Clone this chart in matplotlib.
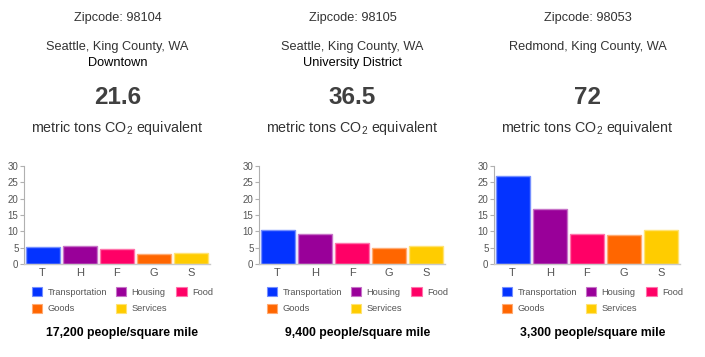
import matplotlib
matplotlib.use("Agg")
import matplotlib.pyplot as plt
from matplotlib.patches import Patch
from matplotlib.colors import to_rgb

plt.rcParams['font.family'] = ['Liberation Sans', 'DejaVu Sans']
plt.rcParams['mathtext.default'] = 'regular'

# ---- data ----
zipcodes = ['98104', '98105', '98053']
cities = ['Seattle, King County, WA', 'Seattle, King County, WA', 'Redmond, King County, WA']
neighborhoods = ['Downtown', 'University District', '']
totals = ['21.6', '36.5', '72']
densities = ['17,200', '9,400', '3,300']

categories = ['Transportation', 'Housing', 'Food', 'Goods', 'Services']
tick_labels = ['T', 'H', 'F', 'G', 'S']
transportation = [5.1, 10.4, 26.9]
housing = [5.5, 9.3, 16.9]
food = [4.6, 6.4, 9.2]
goods = [3.15, 4.9, 8.85]
services = [3.45, 5.6, 10.5]
y_ticks = [0, 5, 10, 15, 20, 25, 30]

colors = ['#0433ff', '#990099', '#ff0066', '#ff6600', '#ffcc00']


def lighten(c, f=0.45):
    r, g, b = to_rgb(c)
    return (r + (1 - r) * f, g + (1 - g) * f, b + (1 - b) * f)


edge_colors = [lighten(c) for c in colors]

W, H = 705, 357
fig = plt.figure(figsize=(W / 100, H / 100), dpi=100)
fig.patch.set_facecolor('white')


def fx(px):
    return px / W


def fy(py):
    return 1 - py / H


series = [transportation, housing, food, goods, services]
text_gray = '#333333'

for i in range(3):
    off = 235 * i
    cx = 117.5 + off
    left = 24 + off
    ax = fig.add_axes([fx(left), fy(264), 186 / W, 98 / H])
    vals = [s[i] for s in series]
    xs = list(range(len(tick_labels)))
    ax.bar(xs, vals, width=0.91, color=colors, edgecolor=edge_colors, linewidth=1.0)
    ax.set_xlim(-0.5, 4.5)
    ax.set_ylim(0, 30)
    ax.set_yticks(y_ticks)
    ax.set_xticks(xs)
    ax.set_xticklabels(tick_labels)
    for sp in ['top', 'right']:
        ax.spines[sp].set_visible(False)
    ax.spines['left'].set_color('#b0b0b0')
    ax.spines['bottom'].set_color('#c8c8c8')
    ax.spines['left'].set_linewidth(0.8)
    ax.spines['bottom'].set_linewidth(1.0)
    ax.tick_params(axis='y', length=3, width=0.8, color='#b0b0b0', labelsize=7,
                   labelcolor='#555555', pad=1)
    ax.tick_params(axis='x', length=0, labelsize=8, labelcolor='#555555', pad=3)

    handles = [Patch(facecolor=colors[k], edgecolor=edge_colors[k], linewidth=0.8)
               for k in range(5)]
    order = [0, 3, 1, 4, 2]
    leg = ax.legend([handles[k] for k in order], [categories[k] for k in order],
                    ncol=3, loc='upper left',
                    bbox_to_anchor=(fx(32 + off), fy(287)),
                    bbox_transform=fig.transFigure, frameon=False,
                    fontsize=6.7, handlelength=1.1, handleheight=1.1,
                    handletextpad=0.55, columnspacing=1.0, labelspacing=0.75,
                    borderpad=0, borderaxespad=0)
    for t in leg.get_texts():
        t.set_color('#555555')

    fig.text(fx(cx), fy(18), f'Zipcode: {zipcodes[i]}', ha='center', va='center',
             fontsize=9.2, color=text_gray)
    fig.text(fx(cx), fy(47), cities[i], ha='center', va='center',
             fontsize=9.2, color=text_gray)
    if neighborhoods[i]:
        fig.text(fx(cx), fy(63), neighborhoods[i], ha='center', va='center',
                 fontsize=9.2, color='black')
    fig.text(fx(cx), fy(98), totals[i], ha='center', va='center',
             fontsize=17.5, fontweight='bold', color='#404040')
    fig.text(fx(cx), fy(128), 'metric tons CO$_2$ equivalent', ha='center', va='center',
             fontsize=10.3, color=text_gray)
    fig.text(fx(cx + 5), fy(333), f'{densities[i]} people/square mile', ha='center',
             va='center', fontsize=8.8, fontweight='bold', color='black')

fig.savefig('out.png', dpi=100, facecolor='white')
